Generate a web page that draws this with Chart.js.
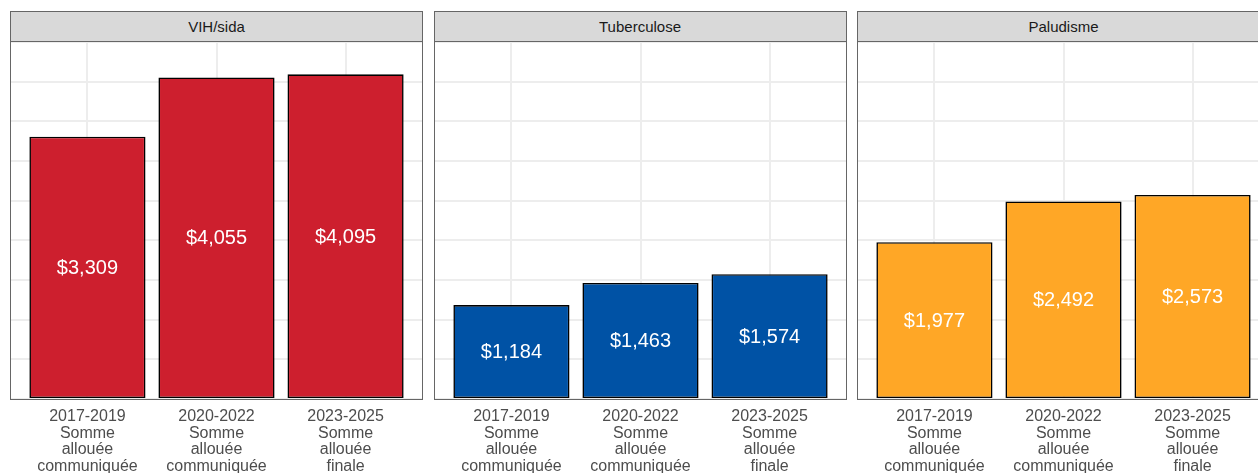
<!DOCTYPE html>
<html>
<head>
<meta charset="utf-8">
<script src="https://cdn.jsdelivr.net/npm/chart.js@4"></script>
<style>
    html, body { margin: 0; padding: 0; background: #fff; overflow: hidden; width: 1258px; height: 473px; }
    .strip {
        position: absolute; top: 11px; height: 29px; width: 411px;
        background: #d9d9d9; border: 1px solid #666;
        font: 15px "Liberation Sans", Arial, sans-serif; color: #1a1a1a;
        text-align: center; line-height: 30px;
    }
    canvas { position: absolute; top: 37px; }
</style>
</head>
<body>
<div class="strip" id="strip0"></div>
<div class="strip" id="strip1"></div>
<div class="strip" id="strip2"></div>
<canvas id="chart0" width="421" height="436"></canvas>
<canvas id="chart1" width="421" height="436"></canvas>
<canvas id="chart2" width="421" height="436"></canvas>
<script>
const diseases = ['VIH/sida', 'Tuberculose', 'Paludisme'];
const periods = ['2017-2019', '2020-2022', '2023-2025'];
const periodNotes = [
    ['Somme', 'allouée', 'communiquée'],
    ['Somme', 'allouée', 'communiquée'],
    ['Somme', 'allouée', 'finale']
];
const vihValues = [3309, 4055, 4095];
const tbValues = [1184, 1463, 1574];
const paluValues = [1977, 2492, 2573];
const barColors = ['#cd1f2e', '#0052a5', '#ffa726'];
const yMax = 4515;
const gridStep = 500;

const allValues = [vihValues, tbValues, paluValues];
const panelLefts = [10, 433.5, 857];

// labels in the middle of each bar
const barLabels = {
    id: 'barLabels',
    afterDatasetsDraw(chart) {
        const ctx = chart.ctx;
        const meta = chart.getDatasetMeta(0);
        ctx.save();
        ctx.fillStyle = '#ffffff';
        ctx.font = '20px "Liberation Sans", Arial, sans-serif';
        ctx.textAlign = 'center';
        ctx.textBaseline = 'middle';
        meta.data.forEach((bar, i) => {
            const v = chart.data.datasets[0].data[i].y;
            ctx.fillText('$' + v.toLocaleString('en-US'), bar.x, (bar.y + bar.base) / 2 + 1);
        });
        ctx.restore();
    }
};

// panel border
const panelBorder = {
    id: 'panelBorder',
    afterDraw(chart) {
        const a = chart.chartArea;
        const ctx = chart.ctx;
        ctx.save();
        ctx.strokeStyle = '#666';
        ctx.lineWidth = 1;
        ctx.strokeRect(a.left + 0.5, a.top + 0.5, a.right - a.left - 1, a.bottom - a.top);
        ctx.restore();
    }
};

diseases.forEach((name, p) => {
    const strip = document.getElementById('strip' + p);
    strip.textContent = name;
    strip.style.left = panelLefts[p] + 'px';

    const canvas = document.getElementById('chart' + p);
    canvas.style.left = (panelLefts[p] - 4) + 'px';

    new Chart(canvas.getContext('2d'), {
        type: 'bar',
        data: {
            datasets: [{
                label: name,
                data: allValues[p].map((v, i) => ({ x: i + 1, y: v })),
                backgroundColor: barColors[p],
                borderColor: '#000000',
                borderWidth: 1.6,
                borderSkipped: false,
                barPercentage: 0.9,
                categoryPercentage: 1.0
            }]
        },
        options: {
            responsive: false,
            animation: false,
            devicePixelRatio: 1,
            plugins: {
                legend: { display: false },
                tooltip: { enabled: false }
            },
            layout: {
                padding: { left: 4, right: 4, top: 4, bottom: 0 }
            },
            scales: {
                x: {
                    type: 'linear',
                    min: 0.4,
                    max: 3.6,
                    offset: false,
                    afterBuildTicks: (s) => {
                        s.ticks = periods.map((_, i) => ({ value: i + 1 }));
                    },
                    afterFit: (s) => { s.height = 74; },
                    ticks: {
                        autoSkip: false,
                        maxRotation: 0,
                        padding: 9,
                        color: '#4d4d4d',
                        font: { family: '"Liberation Sans", Arial, sans-serif', size: 16, lineHeight: 1.05 },
                        callback: (v) => [periods[v - 1]].concat(periodNotes[v - 1])
                    },
                    grid: {
                        color: '#ededed',
                        lineWidth: 2,
                        offset: false,
                        drawTicks: false
                    },
                    border: { display: false }
                },
                y: {
                    type: 'linear',
                    min: 0,
                    max: yMax,
                    afterBuildTicks: (s) => {
                        const t = [];
                        for (let v = 0; v <= yMax; v += gridStep) t.push({ value: v });
                        s.ticks = t;
                    },
                    ticks: { display: false },
                    grid: {
                        color: '#ededed',
                        lineWidth: 2,
                        drawTicks: false
                    },
                    border: { display: false }
                }
            }
        },
        plugins: [barLabels, panelBorder]
    });
});
</script>
</body>
</html>
